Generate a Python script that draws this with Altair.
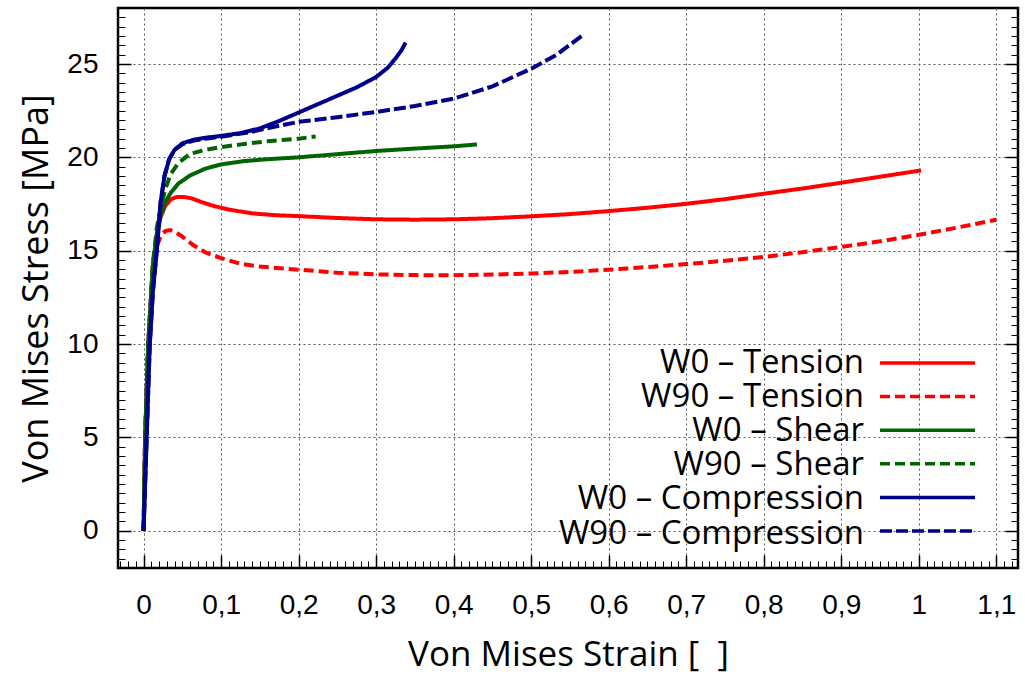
import altair as alt
import pandas as pd

SERIES = ["W0 – Tension", "W90 – Tension", "W0 – Shear", "W90 – Shear",
          "W0 – Compression", "W90 – Compression"]
COLORS = ["#ff0000", "#ff0000", "#006400", "#006400", "#00008b", "#00008b"]
DASHES = [[1, 0], [10, 5], [1, 0], [10, 5], [1, 0], [12, 4]]
WIDTHS = [4, 4, 3.5, 3.5, 4.5, 4.5]

w0_t_strain = [0, 0.002, 0.006, 0.012, 0.017, 0.022, 0.028, 0.035, 0.043, 0.052, 0.062, 0.075,
               0.09, 0.11, 0.14, 0.17, 0.2, 0.25, 0.3, 0.35, 0.4, 0.45, 0.5, 0.55, 0.6, 0.65,
               0.7, 0.75, 0.8, 0.85, 0.9, 0.95, 1.003]
w0_t_stress = [0, 5, 10, 14.2, 15.8, 16.8, 17.4, 17.75, 17.88, 17.88, 17.8, 17.6,
               17.4, 17.2, 17.0, 16.9, 16.85, 16.75, 16.68, 16.66, 16.68, 16.74, 16.84, 16.96,
               17.12, 17.3, 17.51, 17.76, 18.05, 18.33, 18.64, 18.96, 19.3]

w90_t_strain = [0, 0.002, 0.006, 0.012, 0.017, 0.022, 0.028, 0.034, 0.041, 0.05, 0.064, 0.08,
                0.1, 0.125, 0.15, 0.2, 0.25, 0.3, 0.35, 0.4, 0.45, 0.5, 0.55, 0.6, 0.65, 0.7,
                0.75, 0.8, 0.85, 0.9, 0.95, 1.0, 1.05, 1.1]
w90_t_stress = [0, 5, 10, 14.0, 15.2, 15.8, 16.05, 16.1, 16.0, 15.75, 15.3, 14.9,
                14.6, 14.3, 14.15, 13.98, 13.82, 13.73, 13.69, 13.68, 13.72, 13.78, 13.86, 13.98,
                14.12, 14.28, 14.46, 14.66, 14.92, 15.2, 15.5, 15.85, 16.24, 16.66]

w0_s_strain = [0, 0.002, 0.006, 0.012, 0.017, 0.022, 0.028, 0.035, 0.045, 0.06, 0.08, 0.1,
               0.13, 0.16, 0.2, 0.25, 0.3, 0.35, 0.4, 0.43]
w0_s_stress = [0, 5, 10, 14.2, 15.9, 16.9, 17.6, 18.1, 18.6, 19.03, 19.4, 19.62,
               19.8, 19.9, 20.0, 20.17, 20.34, 20.47, 20.59, 20.69]

w90_s_strain = [0, 0.002, 0.006, 0.012, 0.017, 0.022, 0.028, 0.035, 0.045, 0.06, 0.08, 0.1,
                0.13, 0.16, 0.2, 0.222]
w90_s_stress = [0, 5, 10, 14.3, 16.2, 17.3, 18.3, 19.1, 19.7, 20.19, 20.4, 20.55,
                20.72, 20.86, 21.0, 21.12]

w0_c_strain = [0, 0.004, 0.008, 0.012, 0.017, 0.022, 0.027, 0.033, 0.04, 0.05, 0.065, 0.08,
               0.1, 0.125, 0.15, 0.175, 0.2, 0.225, 0.25, 0.275, 0.3, 0.315, 0.325, 0.333, 0.338]
w0_c_stress = [0, 5, 10, 12.8, 15, 17.6, 19.0, 19.9, 20.4, 20.75, 20.95, 21.05,
               21.15, 21.3, 21.55, 21.95, 22.4, 22.85, 23.3, 23.75, 24.3, 24.8, 25.3, 25.75, 26.15]

w90_c_strain = [0, 0.004, 0.008, 0.012, 0.017, 0.022, 0.027, 0.033, 0.04, 0.05, 0.065, 0.08,
                0.1, 0.137, 0.17, 0.2, 0.25, 0.3, 0.35, 0.4, 0.45, 0.5, 0.533, 0.565]
w90_c_stress = [0, 5, 10, 12.8, 15, 17.6, 19.0, 19.9, 20.4, 20.7, 20.9, 21.0,
                21.1, 21.35, 21.65, 21.9, 22.15, 22.43, 22.75, 23.14, 23.8, 24.75, 25.5, 26.5]

X_MAJOR = [0, 0.1, 0.2, 0.3, 0.4, 0.5, 0.6, 0.7, 0.8, 0.9, 1.0, 1.1]
Y_MAJOR = [0, 5, 10, 15, 20, 25]
X_MINOR = [round(-0.03 + 0.01 * i, 2) for i in range(116)]
Y_MINOR = [-1.5 + 0.5 * i for i in range(59)]

curves = [(w0_t_strain, w0_t_stress), (w90_t_strain, w90_t_stress),
          (w0_s_strain, w0_s_stress), (w90_s_strain, w90_s_stress),
          (w0_c_strain, w0_c_stress), (w90_c_strain, w90_c_stress)]
rows = []
for name, (xs, ys) in zip(SERIES, curves):
    for i, (a, b) in enumerate(zip(xs, ys)):
        rows.append({"series": name, "label": name, "strain": a, "stress": b, "idx": i})
df = pd.DataFrame(rows)

xscale = alt.Scale(domain=[-0.033, 1.128], nice=False, zero=False)
yscale = alt.Scale(domain=[-2, 28], nice=False, zero=False)

TICK_FONT = "Liberation Sans"
TITLE_FONT = "Open Sans"

base = alt.Chart(df)

grid = base.mark_line(opacity=0).encode(
    x=alt.X("strain:Q", scale=xscale, axis=alt.Axis(
        orient="bottom", values=X_MAJOR, grid=True, gridDash=[2, 3], gridColor="#555555",
        gridWidth=1, ticks=False, labels=False, domain=False, title=None)),
    y=alt.Y("stress:Q", scale=yscale, axis=alt.Axis(
        orient="left", values=Y_MAJOR, grid=True, gridDash=[2, 3], gridColor="#555555",
        gridWidth=1, ticks=False, labels=False, domain=False, title=None)),
    detail="series:N",
)

# legend showing only the line samples
legend_sym = alt.Legend(
    title=None, orient="none", legendX=760, legendY=340, symbolType="stroke",
    symbolSize=9025, symbolStrokeWidth=3.5, labelOpacity=0, labelFontSize=1,
    rowPadding=3.6, clipHeight=30, padding=0,
)
# legend showing only the texts, right-aligned to the left of the samples
legend_txt = alt.Legend(
    title=None, orient="none", legendX=713, legendY=339, symbolType="stroke",
    symbolSize=16, symbolOpacity=0, labelFont=TITLE_FONT, labelFontSize=33,
    labelColor="black", labelAlign="right", labelOffset=0, labelLimit=0,
    rowPadding=1.1, clipHeight=32, padding=0,
)

lines = base.mark_line(clip=True).encode(
    x=alt.X("strain:Q", scale=xscale, axis=alt.Axis(
        orient="bottom", values=X_MAJOR, grid=False, domain=False,
        offset=-13, tickSize=13, tickWidth=1.5, tickColor="black",
        labelPadding=23, labelFont=TICK_FONT, labelFontSize=28, labelColor="black",
        labelExpr="replace(format(datum.value, '~g'), '.', ',')",
        title="Von Mises Strain [\u00a0\u00a0]", titleFont=TITLE_FONT, titleFontSize=35,
        titleFontWeight="normal", titleColor="black", titlePadding=18)),
    y=alt.Y("stress:Q", scale=yscale, axis=alt.Axis(
        orient="left", values=Y_MAJOR, grid=False, domain=False,
        offset=-13, tickSize=13, tickWidth=1.5, tickColor="black",
        labelPadding=20, labelFont=TICK_FONT, labelFontSize=28, labelColor="black",
        title="Von Mises Stress [MPa]", titleFont=TITLE_FONT, titleFontSize=36,
        titleFontWeight="normal", titleColor="black", titlePadding=11)),
    color=alt.Color("series:N", scale=alt.Scale(domain=SERIES, range=COLORS), legend=legend_sym),
    strokeDash=alt.StrokeDash("series:N", scale=alt.Scale(domain=SERIES, range=DASHES),
                              legend=legend_sym),
    strokeWidth=alt.StrokeWidth("label:N", sort=SERIES, scale=alt.Scale(range=WIDTHS),
                                legend=legend_txt),
    order="idx:Q",
)

minor_lb = base.mark_line(opacity=0).encode(
    x=alt.X("strain:Q", scale=xscale, axis=alt.Axis(
        orient="bottom", values=X_MINOR, grid=False, domain=False, labels=False, title=None,
        offset=-7, tickSize=7, tickWidth=1, tickColor="black")),
    y=alt.Y("stress:Q", scale=yscale, axis=alt.Axis(
        orient="left", values=Y_MINOR, grid=False, domain=False, labels=False, title=None,
        offset=-7, tickSize=7, tickWidth=1, tickColor="black")),
    detail="series:N",
)

major_r = base.mark_line(opacity=0).encode(
    x=alt.X("strain:Q", scale=xscale, axis=None),
    y=alt.Y("stress:Q", scale=yscale, axis=alt.Axis(
        orient="right", values=Y_MAJOR, grid=False, domain=False, labels=False, title=None,
        offset=-13, tickSize=13, tickWidth=1.5, tickColor="black")),
    detail="series:N",
)

minor_r = base.mark_line(opacity=0).encode(
    x=alt.X("strain:Q", scale=xscale, axis=None),
    y=alt.Y("stress:Q", scale=yscale, axis=alt.Axis(
        orient="right", values=Y_MINOR, grid=False, domain=False, labels=False, title=None,
        offset=-7, tickSize=7, tickWidth=1, tickColor="black")),
    detail="series:N",
)

chart = alt.layer(grid, lines, minor_lb, major_r, minor_r).resolve_axis(
    x="independent", y="independent"
).properties(
    width=900, height=560,
    padding={"left": 118, "top": 8, "right": 7, "bottom": 107},
    autosize=alt.AutoSizeParams(type="none"),
    background="white",
).configure_view(stroke="black", strokeWidth=2.5)

chart.save("out.html", embed_options={"renderer": "svg", "actions": False})
